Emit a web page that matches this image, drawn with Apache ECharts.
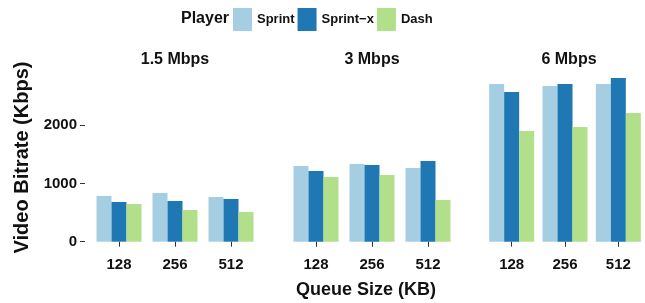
<!DOCTYPE html>
<html lang="en">

<head>
    <meta charset="UTF-8">
    <title>Video bitrate by queue size</title>
    <style>
        html, body { margin: 0; padding: 0; background: #fff; }
        #chart { width: 645px; height: 303px; }
    </style>
</head>

<body>
    <div id="chart"></div>
    <script src="https://cdn.jsdelivr.net/npm/echarts@6/dist/echarts.min.js"></script>
    <script>
        // facets, categories and values
        var bitrates = ['1.5 Mbps', '3 Mbps', '6 Mbps']
        var queueSizes = ['128', '256', '512']
        var players = ['Sprint', 'Sprint\u2212x', 'Dash']
        var colors = ['#a6cee3', '#1f78b4', '#b2df8a']
        var yTicks = [0, 1000, 2000]

        // one row per facet, one value per queue size
        var sprint = [[784, 835, 767], [1298, 1333, 1264], [2705, 2670, 2705]]
        var sprintX = [[681, 698, 732], [1212, 1316, 1384], [2568, 2705, 2808]]
        var dash = [[647, 544, 509], [1110, 1144, 715], [1899, 1968, 2208]]
        var values = [sprint, sprintX, dash]

        var font = 'Liberation Sans, Arial, sans-serif'
        var panelLeft = [91, 288, 485]
        var panelWidth = 168

        var grids = [], xAxes = [], yAxes = [], series = [], titles = []

        for (let i = 0; i < bitrates.length; i++) {
            grids.push({ left: panelLeft[i], top: 72.6, width: panelWidth, height: 169.1 })
            xAxes.push({
                type: 'category',
                gridIndex: i,
                data: queueSizes,
                offset: 8,
                axisLine: { show: false },
                axisTick: { show: true, alignWithLabel: true, length: 5, lineStyle: { color: '#333' } },
                axisLabel: { color: '#111', fontWeight: 'bold', fontSize: 15, fontFamily: font, margin: 8 }
            })
            yAxes.push({
                type: 'value',
                gridIndex: i,
                min: 0,
                max: 2900,
                show: i === 0,
                offset: 6,
                splitLine: { show: false },
                axisLine: { show: false },
                axisTick: { show: true, length: 5, customValues: yTicks, lineStyle: { color: '#333' } },
                axisLabel: {
                    customValues: yTicks,
                    formatter: function (v) { return String(v) },
                    color: '#111', fontWeight: 'bold', fontSize: 15, fontFamily: font, margin: 8
                }
            })
            titles.push({
                text: bitrates[i],
                left: panelLeft[i] + panelWidth / 2,
                top: 52,
                padding: 0,
                textAlign: 'center',
                textStyle: { fontSize: 16, fontWeight: 'bold', color: '#111', fontFamily: font }
            })
            for (let j = 0; j < players.length; j++) {
                series.push({
                    name: players[j],
                    type: 'bar',
                    xAxisIndex: i,
                    yAxisIndex: i,
                    data: values[j][i],
                    barWidth: 15,
                    barGap: '0%',
                    itemStyle: { color: colors[j] },
                    emphasis: { disabled: true }
                })
            }
        }

        titles.push({
            text: 'Player',
            left: 181,
            top: 11,
            padding: 0,
            textStyle: { fontSize: 16, fontWeight: 'bold', color: '#111', fontFamily: font }
        })

        var myChart = echarts.init(document.getElementById('chart'))

        var option = {
            animation: false,
            title: titles,
            legend: {
                data: players,
                left: 233,
                top: 8,
                icon: 'rect',
                itemWidth: 19,
                itemHeight: 23,
                itemGap: 3,
                padding: 0,
                textStyle: { fontSize: 13, fontWeight: 'bold', color: '#111', fontFamily: font }
            },
            grid: grids,
            xAxis: xAxes,
            yAxis: yAxes,
            series: series,
            graphic: [
                {
                    type: 'text',
                    x: 22,
                    y: 157.5,
                    rotation: Math.PI / 2,
                    style: {
                        text: 'Video Bitrate (Kbps)',
                        fill: '#111',
                        font: 'bold 20px ' + font,
                        align: 'center',
                        verticalAlign: 'middle'
                    }
                },
                {
                    type: 'text',
                    x: 366,
                    y: 290,
                    style: {
                        text: 'Queue Size (KB)',
                        fill: '#111',
                        font: 'bold 18px ' + font,
                        align: 'center',
                        verticalAlign: 'middle'
                    }
                }
            ]
        }
        myChart.setOption(option)
    </script>
</body>

</html>
